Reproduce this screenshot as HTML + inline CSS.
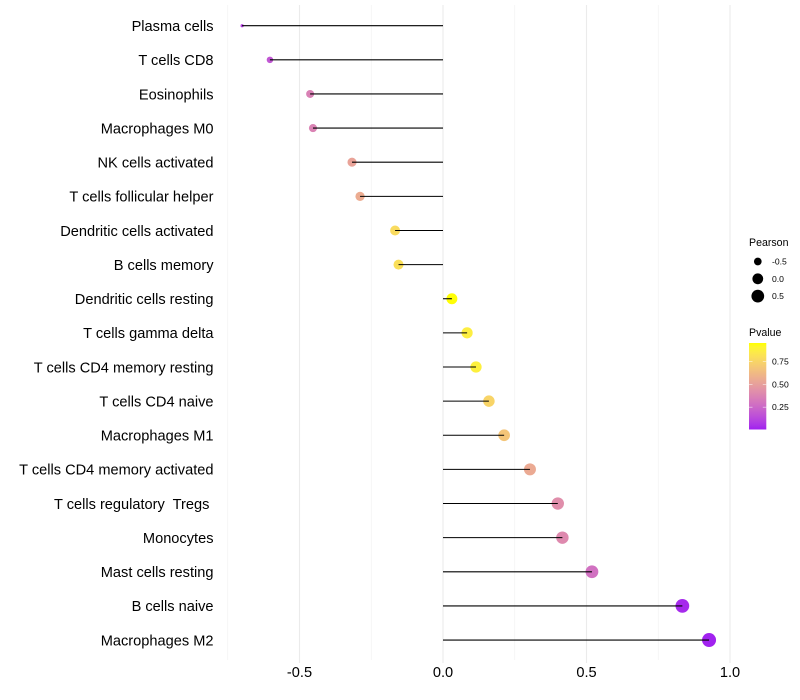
<!DOCTYPE html>
<html>
<head>
<meta charset="utf-8">
<title>Lollipop chart of Pearson correlation by immune cell type</title>
<style>
html,body{margin:0;padding:0;background:#fff;width:800px;height:700px;overflow:hidden}
svg{display:block;font-family:"Liberation Sans",sans-serif}
text{white-space:pre}
</style>
</head>
<body>
<svg id="chart" width="800" height="700" viewBox="0 0 800 700" xmlns="http://www.w3.org/2000/svg">
  <rect x="0" y="0" width="800" height="700" fill="#ffffff"/>
  <defs><linearGradient id="pvalue-gradient" x1="0" y1="1" x2="0" y2="0"></linearGradient></defs>
  <g id="grid"></g>
  <g id="marks"></g>
  <g id="y-axis"></g>
  <g id="x-axis"></g>
  <g id="size-legend"></g>
  <g id="color-legend"></g>
</svg>
<script>
const categories = ["Plasma cells","T cells CD8","Eosinophils","Macrophages M0","NK cells activated","T cells follicular helper","Dendritic cells activated","B cells memory","Dendritic cells resting","T cells gamma delta","T cells CD4 memory resting","T cells CD4 naive","Macrophages M1","T cells CD4 memory activated","T cells regulatory  Tregs ","Monocytes","Mast cells resting","B cells naive","Macrophages M2"];
const pearson = [-0.70,-0.603,-0.463,-0.453,-0.317,-0.289,-0.167,-0.155,0.031,0.084,0.115,0.16,0.213,0.303,0.40,0.416,0.519,0.834,0.927];
const pvalues = [0.10,0.18,0.36,0.37,0.52,0.56,0.78,0.80,0.95,0.87,0.88,0.75,0.68,0.55,0.42,0.40,0.29,0.03,0.01];
const xTicks = [-0.5,0.0,0.5,1.0];
const xTickLabels = ["-0.5","0.0","0.5","1.0"];
const xMinorTicks = [-0.75,-0.25,0.25,0.75];
const sizeLegendValues = [-0.5,0.0,0.5];
const sizeLegendLabels = ["-0.5","0.0","0.5"];
const colorLegendValues = [0.25,0.50,0.75];
const colorLegendLabels = ["0.25","0.50","0.75"];
const pvalueDomain = [0.005,0.953];

const NS = "http://www.w3.org/2000/svg";
const xScale = v => 443 + v * 287;
const yScale = i => 25.7 + i * 34.13;
const pMin = Math.min(...pearson), pMax = Math.max(...pearson);
const radius = v => {
  const t = Math.max(0, (v - pMin) / (pMax - pMin));
  return 1.6 + Math.pow(t, 0.42) * 5.4;
};
const legendY = v => 429.5 - (v - pvalueDomain[0]) / (pvalueDomain[1] - pvalueDomain[0]) * 86.5;

function toLab(c){
  const lin = c.map(u => { u /= 255; return u > 0.04045 ? Math.pow((u + 0.055) / 1.055, 2.4) : u / 12.92; });
  const X = (0.4124 * lin[0] + 0.3576 * lin[1] + 0.1805 * lin[2]) / 0.95047;
  const Y = 0.2126 * lin[0] + 0.7152 * lin[1] + 0.0722 * lin[2];
  const Z = (0.0193 * lin[0] + 0.1192 * lin[1] + 0.9505 * lin[2]) / 1.08883;
  const f = t => t > 0.008856 ? Math.cbrt(t) : 7.787 * t + 16 / 116;
  return [116 * f(Y) - 16, 500 * (f(X) - f(Y)), 200 * (f(Y) - f(Z))];
}
function fromLab(l){
  const fy = (l[0] + 16) / 116, fx = l[1] / 500 + fy, fz = fy - l[2] / 200;
  const g = t => t * t * t > 0.008856 ? t * t * t : (t - 16 / 116) / 7.787;
  const X = g(fx) * 0.95047, Y = g(fy), Z = g(fz) * 1.08883;
  const rgb = [3.2406 * X - 1.5372 * Y - 0.4986 * Z, -0.9689 * X + 1.8758 * Y + 0.0415 * Z, 0.0557 * X - 0.204 * Y + 1.057 * Z];
  return "rgb(" + rgb.map(u => {
    u = u > 0.0031308 ? 1.055 * Math.pow(u, 1 / 2.4) - 0.055 : 12.92 * u;
    return Math.round(Math.min(1, Math.max(0, u)) * 255);
  }).join(",") + ")";
}
const labLow = toLab([160,32,240]), labHigh = toLab([255,255,0]);
function colorAt(p){
  const t = Math.min(1, Math.max(0, (p - pvalueDomain[0]) / (pvalueDomain[1] - pvalueDomain[0])));
  return fromLab(labLow.map((a, k) => a + (labHigh[k] - a) * t));
}
function make(tag, parent, attrs, text){
  const el = document.createElementNS(NS, tag);
  for (const k in attrs) el.setAttribute(k, attrs[k]);
  if (text !== undefined) el.textContent = text;
  parent.appendChild(el);
  return el;
}

const grid = document.getElementById("grid");
xMinorTicks.forEach(v => {
  const el = make("line", grid, {x1:xScale(v), x2:xScale(v), y1:5, y2:660, stroke:"#f0f0f0", "stroke-width":0.6});
  
  
});
xTicks.forEach(v => {
  const el = make("line", grid, {x1:xScale(v), x2:xScale(v), y1:5, y2:663, stroke:"#ebebeb", "stroke-width":1.07});
  
  
});

const marks = document.getElementById("marks");
categories.forEach((c, i) => {
  const dot = make("circle", marks, {cx:xScale(pearson[i]), cy:yScale(i), r:radius(pearson[i]), fill:colorAt(pvalues[i])});
  
  
});
categories.forEach((c, i) => {
  const seg = make("line", marks, {x1:xScale(0), x2:xScale(pearson[i]), y1:yScale(i), y2:yScale(i), stroke:"#000000", "stroke-width":1.07});
  
  
});

const yAxis = document.getElementById("y-axis");
categories.forEach((c, i) => {
  const t = make("text", yAxis, {x:213.5, y:yScale(i) + 5.3, "text-anchor":"end", "font-size":14.6, fill:"#000000"}, c);
  
  
});

const xAxis = document.getElementById("x-axis");
xTicks.forEach((v, i) => {
  const t = make("text", xAxis, {x:xScale(v), y:677, "text-anchor":"middle", "font-size":14.6, fill:"#000000"}, xTickLabels[i]);
  
  
});

const sizeLegend = document.getElementById("size-legend");
const sizeTitle = make("text", sizeLegend, {x:749, y:246, "font-size":10.6, fill:"#000000"}, "Pearson");


sizeLegendValues.forEach((v, i) => {
  const y = 261.5 + i * 17.3;
  const key = make("circle", sizeLegend, {cx:757.8, cy:y, r:radius(v), fill:"#000000"});
  
  
  const lab = make("text", sizeLegend, {x:772, y:y + 3, "font-size":8.6, fill:"#000000"}, sizeLegendLabels[i]);
  
  
});

const gradient = document.getElementById("pvalue-gradient");
for (let s = 0; s <= 20; s++) {
  const p = pvalueDomain[0] + (pvalueDomain[1] - pvalueDomain[0]) * s / 20;
  make("stop", gradient, {offset:(s * 5) + "%", "stop-color":colorAt(p)});
}
const colorLegend = document.getElementById("color-legend");
const colorTitle = make("text", colorLegend, {x:749, y:336, "font-size":10.6, fill:"#000000"}, "Pvalue");


const bar = make("rect", colorLegend, {x:749, y:343, width:17.3, height:86.5, fill:"url(#pvalue-gradient)"});


colorLegendValues.forEach((v, i) => {
  const y = legendY(v);
  const t1 = make("line", colorLegend, {x1:749, x2:752.5, y1:y, y2:y, stroke:"#ffffff", "stroke-width":0.5});
  
  
  const t2 = make("line", colorLegend, {x1:762.8, x2:766.3, y1:y, y2:y, stroke:"#ffffff", "stroke-width":0.5});
  
  
  const lab = make("text", colorLegend, {x:772, y:y + 3, "font-size":8.6, fill:"#000000"}, colorLegendLabels[i]);
  
  
});
</script>
</body>
</html>
